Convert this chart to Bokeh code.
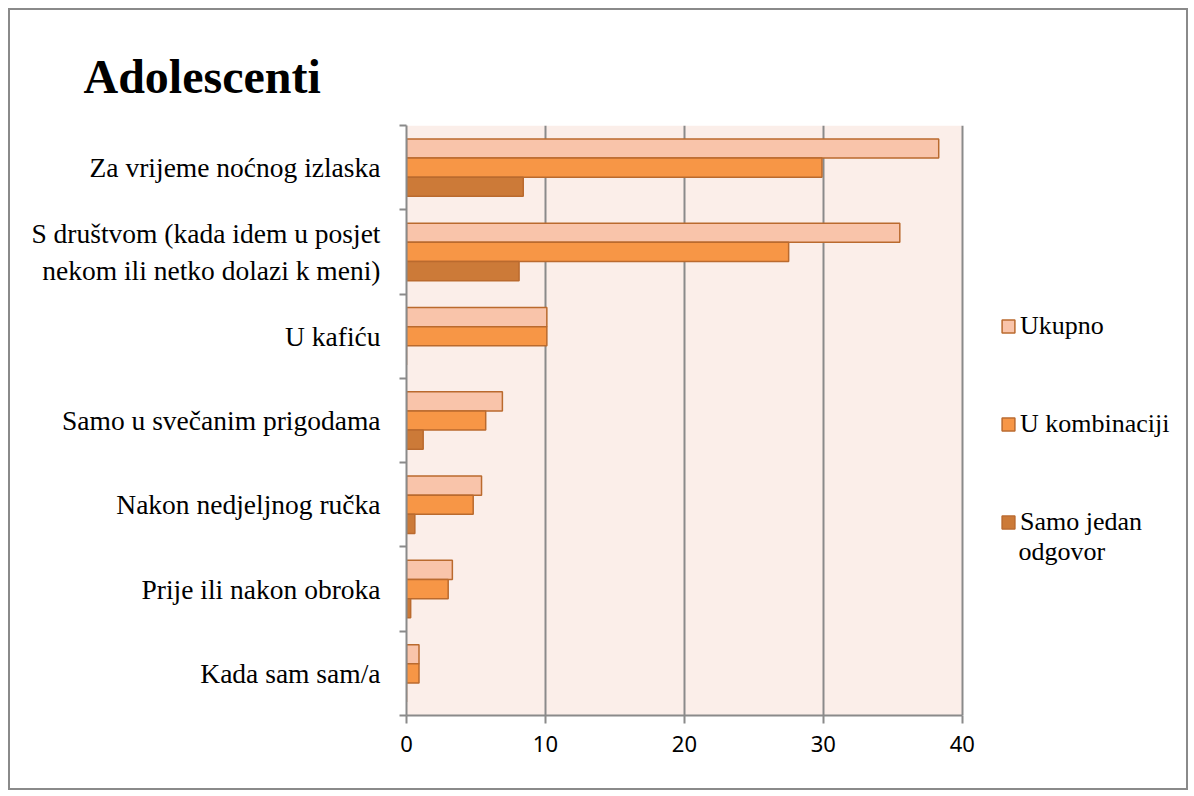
from bokeh.plotting import figure
from bokeh.models import (FixedTicker, Legend, LegendItem, Range1d, ColumnDataSource,
                          Title, Label, BoxAnnotation)
from bokeh.embed import file_html
from bokeh.resources import INLINE

categories = [
    "Za vrijeme noćnog izlaska",
    "S društvom (kada idem u posjet\nnekom ili netko dolazi k meni)",
    "U kafiću",
    "Samo u svečanim prigodama",
    "Nakon nedjeljnog ručka",
    "Prije ili nakon obroka",
    "Kada sam sam/a",
]
ukupno = [38.3, 35.5, 10.1, 6.9, 5.4, 3.3, 0.9]
u_kombinaciji = [29.9, 27.5, 10.1, 5.7, 4.8, 3.0, 0.9]
samo_jedan = [8.4, 8.1, 0.0, 1.2, 0.6, 0.3, 0.0]
series_names = ["Ukupno", "U kombinaciji", "Samo jedan"]
legend_extra_line = "odgovor"
x_ticks = [0, 10, 20, 30, 40]
x_max = 40

fills = ["#F9C4AA", "#F79646", "#CC7A38"]
outline = "#BA6A2E"
gray = "#8a8a8a"
n = len(categories)
centers = [n - i - 0.5 for i in range(n)]
bar_h = 0.227
offsets = [bar_h, 0.0, -bar_h]

W, H = 1180, 782
border_l = 396
plot_px = 553                      # width of the shaded plot area
frame_px = W - 4 - border_l        # frame runs to the right edge (legend lives inside)
x_end = x_max * frame_px / plot_px

p = figure(width=W, height=H, output_backend="svg", toolbar_location=None,
           x_range=Range1d(0, x_end), y_range=Range1d(0, n),
           min_border_left=border_l, min_border_right=0, min_border_top=115, min_border_bottom=77)
p.styles = {"border": "2px solid #8a8a8a", "margin": "8px"}
p.background_fill_color = "white"
p.border_fill_color = "white"
p.outline_line_color = None

bg = BoxAnnotation(left=0, right=x_max, fill_color="#FBEEE9", fill_alpha=1.0,
                   line_color=None, level="image")
p.add_layout(bg)

title = Title(text="Adolescenti", text_font="Liberation Serif", text_font_size="48px",
              text_font_style="bold", align="left", offset=-323, standoff=46, text_color="black")
p.add_layout(title, "above")

renderers = []
for vals, off, col in zip([ukupno, u_kombinaciji, samo_jedan], offsets, fills):
    src = ColumnDataSource(dict(y=[c + off for c in centers], right=vals))
    r = p.hbar(y="y", right="right", left=0, height=bar_h, source=src,
               fill_color=col, line_color=outline, line_width=1.5)
    renderers.append(r)

# axes
p.xaxis.ticker = FixedTicker(ticks=x_ticks)
p.xaxis.bounds = (0, x_max)
p.xaxis.axis_line_color = gray
p.xaxis.axis_line_width = 2
p.xaxis.major_tick_line_color = gray
p.xaxis.major_tick_line_width = 2
p.xaxis.major_tick_out = 8
p.xaxis.major_tick_in = 0
p.xaxis.minor_tick_line_color = None
p.xaxis.major_label_text_font = "Noto Sans"
p.xaxis.major_label_text_font_size = "22px"
p.xaxis.major_label_text_color = "black"
p.xaxis.major_label_standoff = 12

p.yaxis.ticker = FixedTicker(ticks=centers, minor_ticks=list(range(n + 1)))
p.yaxis.major_label_overrides = {c: lab for c, lab in zip(centers, categories)}
p.yaxis.axis_line_color = gray
p.yaxis.axis_line_width = 2
p.yaxis.major_tick_line_color = None
p.yaxis.minor_tick_line_color = gray
p.yaxis.minor_tick_line_width = 2
p.yaxis.minor_tick_out = 7
p.yaxis.minor_tick_in = 0
p.yaxis.major_label_text_font = "Liberation Serif"
p.yaxis.major_label_text_font_size = "27.5px"
p.yaxis.major_label_text_color = "black"
p.yaxis.major_label_standoff = 19

p.xgrid.ticker = FixedTicker(ticks=x_ticks)
p.xgrid.grid_line_color = gray
p.xgrid.grid_line_width = 2
p.ygrid.grid_line_color = None

legend = Legend(items=[LegendItem(label=nm, renderers=[r]) for nm, r in zip(series_names, renderers)],
                location=(594, 178), orientation="vertical",
                label_text_font="Liberation Serif", label_text_font_size="26px",
                label_text_color="black", glyph_width=16, glyph_height=16,
                label_standoff=4, label_height=30, spacing=68, padding=0, margin=0,
                border_line_color=None, background_fill_alpha=0)
p.add_layout(legend, "center")

extra = Label(x=44.05, y=1.95, text=legend_extra_line, text_font="Liberation Serif",
              text_font_size="26px", text_color="black", text_baseline="middle", text_align="left")
p.add_layout(extra)

open("out.html", "w").write(file_html(p, INLINE))
